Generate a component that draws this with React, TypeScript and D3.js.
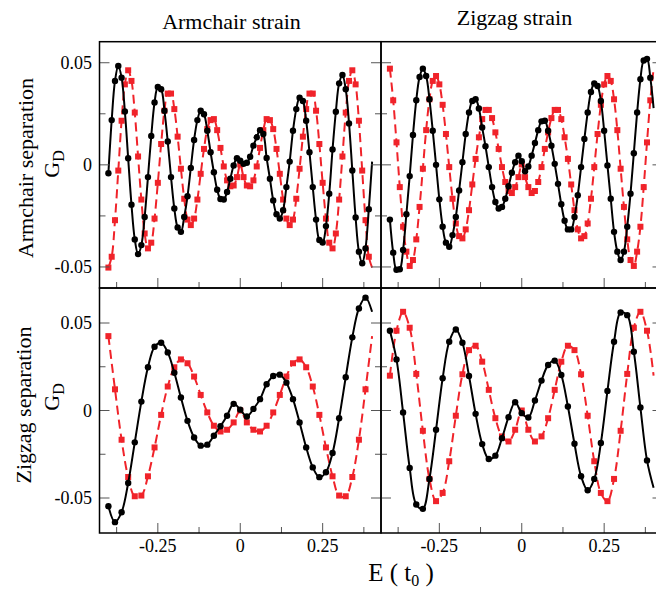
import React, { useEffect, useRef } from 'react';
import * as d3 from 'd3';

// energy grids (units of t0)
const eFine = d3.range(81).map(i => +(-0.4 + i * 0.01).toFixed(2));
const eCoarse = d3.range(41).map(i => +(-0.4 + i * 0.02).toFixed(2));

// armchair separation, armchair strain
const acArmBlack = [
  -0.0041, 0.0219, 0.0411, 0.0484, 0.0427, 0.0261, 0.0032, -0.0195, -0.0365, -0.0437,
  -0.0393, -0.0255, -0.006, 0.0141, 0.0305, 0.0381, 0.037, 0.0265, 0.0114, -0.006,
  -0.0214, -0.0307, -0.0328, -0.0255, -0.0154, -0.0015, 0.0122, 0.0219, 0.0265, 0.0248,
  0.0167, 0.0062, -0.0036, -0.0122, -0.0167, -0.017, -0.0133, -0.0068, -0.0003, 0.0032,
  0.002, 0.0005, 0.001, 0.004, 0.0094, 0.0135, 0.017, 0.0151, 0.0034, -0.0068,
  -0.0174, -0.0242, -0.0263, -0.0222, -0.0109, 0.0016, 0.0167, 0.0273, 0.0329, 0.0313,
  0.0216, 0.0062, -0.0109, -0.0268, -0.0368, -0.038, -0.03, -0.0141, 0.0075, 0.026,
  0.0399, 0.044, 0.037, 0.0203, -0.0028, -0.0258, -0.0425, -0.0482, -0.0409, -0.0217,
  0.0016,
];
const acArmRed = [
  -0.0503, -0.045, -0.0271, -0.0028, 0.0216, 0.0394, 0.0463, 0.0411, 0.0256, 0.0041,
  -0.017, -0.0336, -0.0409, -0.0381, -0.0263, -0.0088, 0.0102, 0.0265, 0.0349, 0.0349,
  0.0273, 0.0138, -0.0019, -0.0166, -0.0268, -0.0295, -0.0263, -0.017, -0.0044, 0.0078,
  0.0175, 0.0219, 0.0224, 0.017, 0.0083, -0.0008, -0.0076, -0.0105, -0.0101, -0.006,
  0.0002, -0.006, -0.0101, -0.0105, -0.0076, -0.0008, 0.0083, 0.017, 0.0224, 0.0219,
  0.0175, 0.0078, -0.0044, -0.017, -0.0263, -0.0295, -0.0268, -0.0166, -0.0019, 0.0138,
  0.0273, 0.0349, 0.0349, 0.0265, 0.0102, -0.0088, -0.0263, -0.0381, -0.0409, -0.0336,
  -0.017, 0.0041, 0.0256, 0.0411, 0.0463, 0.0394, 0.0216, -0.0028, -0.0271, -0.045,
  -0.0503,
];

// armchair separation, zigzag strain
const acZigBlack = [
  -0.0268, -0.043, -0.0514, -0.0511, -0.0417, -0.0242, -0.0055, 0.0146, 0.0316, 0.043,
  0.0471, 0.0435, 0.0321, 0.0167, 0.0, -0.0169, -0.0303, -0.0381, -0.0401, -0.0344,
  -0.0255, -0.0125, 0.0013, 0.0151, 0.0256, 0.0313, 0.0321, 0.0276, 0.0183, 0.0091,
  -0.0011, -0.0109, -0.0182, -0.0214, -0.0206, -0.0166, -0.0105, -0.0039, 0.0013, 0.0045,
  0.0018, -0.0031, -0.0008, 0.0045, 0.0107, 0.017, 0.0213, 0.0216, 0.0167, 0.0094,
  0.0005, -0.0093, -0.0193, -0.0274, -0.0316, -0.0316, -0.0255, -0.0149, -0.0011, 0.0127,
  0.0256, 0.0357, 0.0398, 0.0386, 0.0313, 0.0167, -0.0003, -0.0166, -0.0328, -0.0425,
  -0.0466, -0.0425, -0.0303, -0.0141, 0.0057, 0.0256, 0.0419, 0.0511, 0.0519, 0.0427,
  0.0278,
];
const acZigRed = [
  0.0471, 0.0316, 0.011, -0.0109, -0.0303, -0.0425, -0.0495, -0.0466, -0.0365, -0.0206,
  -0.0019, 0.017, 0.0321, 0.0411, 0.0435, 0.0394, 0.0294, 0.0151, -0.0011, -0.0166,
  -0.0287, -0.0349, -0.036, -0.0316, -0.0222, -0.0096, 0.0029, 0.0135, 0.0224, 0.0269,
  0.0269, 0.0229, 0.0159, 0.0078, -0.0011, -0.0084, -0.0128, -0.0138, -0.0109, -0.006,
  0.0002, -0.006, -0.0109, -0.0138, -0.0128, -0.0084, -0.0011, 0.0078, 0.0159, 0.0229,
  0.0269, 0.0269, 0.0224, 0.0135, 0.0029, -0.0096, -0.0222, -0.0316, -0.036, -0.0349,
  -0.0287, -0.0166, -0.0011, 0.0151, 0.0294, 0.0394, 0.0435, 0.0411, 0.0321, 0.017,
  -0.0019, -0.0206, -0.0365, -0.0466, -0.0495, -0.0425, -0.0303, -0.0109, 0.011, 0.0316,
  0.0471,
];

// zigzag separation, armchair strain
const zzArmBlack = [
  -0.0547, -0.0638, -0.0581, -0.0414, -0.0182, 0.0051, 0.0247, 0.0364, 0.0387, 0.0332,
  0.0216, 0.0074, -0.0059, -0.0154, -0.0201, -0.0195, -0.0144, -0.009, -0.003, 0.0038,
  0.0005, -0.0034, 0.0009, 0.0065, 0.015, 0.0197, 0.0205, 0.0159, 0.0065, -0.0068,
  -0.0211, -0.0325, -0.0381, -0.0353, -0.0243, -0.0044, 0.019, 0.0418, 0.0583, 0.0645,
  0.0564,
];
const zzArmRed = [
  0.0425, 0.0121, -0.0167, -0.038, -0.049, -0.0486, -0.0376, -0.0211, -0.0025, 0.0137,
  0.0247, 0.0292, 0.027, 0.0194, 0.0089, -0.0011, -0.0087, -0.012, -0.011, -0.0068,
  0.0, -0.0068, -0.011, -0.012, -0.0087, -0.0011, 0.0089, 0.0194, 0.027, 0.0292,
  0.0247, 0.0137, -0.0025, -0.0211, -0.0376, -0.0486, -0.049, -0.038, -0.0167, 0.0121,
  0.0425,
];

// zigzag separation, zigzag strain
const zzZigBlack = [
  0.0456, 0.0292, -0.0011, -0.0328, -0.0537, -0.0562, -0.0391, -0.011, 0.0184, 0.0393,
  0.0463, 0.0387, 0.0197, -0.0019, -0.0192, -0.0277, -0.0258, -0.0158, -0.0038, 0.0047,
  -0.0015, -0.004, 0.0057, 0.0171, 0.026, 0.0285, 0.0203, 0.0023, -0.019, -0.0376,
  -0.0456, -0.0391, -0.0186, 0.0112, 0.0393, 0.056, 0.0545, 0.0336, 0.0017, -0.0285,
  -0.0442,
];
const zzZigRed = [
  0.0199, 0.0456, 0.0564, 0.0473, 0.0209, -0.0116, -0.0391, -0.0518, -0.0471, -0.029,
  -0.003, 0.0207, 0.0345, 0.037, 0.0279, 0.0118, -0.0044, -0.0148, -0.0177, -0.011,
  0.0, -0.011, -0.0177, -0.0148, -0.0044, 0.0118, 0.0279, 0.037, 0.0345, 0.0207,
  -0.003, -0.029, -0.0471, -0.0518, -0.0391, -0.0116, 0.0209, 0.0473, 0.0564, 0.0456,
  0.0199,
];

const columnTitles = ['Armchair strain', 'Zigzag strain'];
const rowTitles = ['Armchair separation', 'Zigzag separation'];
const xMajor = [-0.25, 0, 0.25];
const xMinor = [-0.375, -0.125, 0.125, 0.375];
const yMajor = [-0.05, 0, 0.05];
const yMinor = [-0.025, 0.025];
const xTickLabels = ['-0.25', '0', '0.25'];
const yTickLabels = ['-0.05', '0', '0.05'];

const FONT = "'Liberation Serif', 'Times New Roman', serif";
const RED = '#f0232a';

export default function App() {
  const ref = useRef<SVGSVGElement>(null);

  useEffect(() => {
    if (ref.current) drawChart(ref.current);
  }, []);

  return (
    <svg
      ref={ref}
      width={656}
      height={590}
      style={{ position: 'absolute', left: 0, top: 0, background: '#fff' }}
    />
  );
}

const drawChart = (el: SVGSVGElement) => {
  const svg = d3.select(el);
  svg.selectAll('*').remove();

  const cols = [
    { x0: 99.5, x1: 381 },
    { x0: 381, x1: 662.5 },
  ];
  const rows = [
    { y0: 41.7, y1: 288, lim: 0.0603, e: eFine },
    { y0: 288, y1: 533, lim: 0.07, e: eCoarse },
  ];
  const panels = [
    { r: 0, c: 0, black: acArmBlack, red: acArmRed },
    { r: 0, c: 1, black: acZigBlack, red: acZigRed },
    { r: 1, c: 0, black: zzArmBlack, red: zzArmRed },
    { r: 1, c: 1, black: zzZigBlack, red: zzZigRed },
  ];

  panels.forEach((p, idx) => {
    const col = cols[p.c];
    const row = rows[p.r];
    const x = d3.scaleLinear().domain([-0.427, 0.427]).range([col.x0, col.x1]);
    const y = d3.scaleLinear().domain([-row.lim, row.lim]).range([row.y1, row.y0]);
    const g = svg.append('g');

    g.append('clipPath')
      .attr('id', `clip${idx}`)
      .append('rect')
      .attr('x', col.x0)
      .attr('y', row.y0)
      .attr('width', col.x1 - col.x0)
      .attr('height', row.y1 - row.y0);

    const plot = g.append('g').attr('clip-path', `url(#clip${idx})`);

    const line = d3
      .line<number>()
      .x((d, i) => x(row.e[i]))
      .y(d => y(d))
      .curve(d3.curveCatmullRom.alpha(0.5));

    // red dashed series
    plot
      .append('path')
      .attr('d', line(p.red))
      .attr('fill', 'none')
      .attr('stroke', RED)
      .attr('stroke-width', 2)
      .attr('stroke-dasharray', '9,5');
    plot
      .append('g')
      .selectAll('rect')
      .data(p.red.slice(0, -1))
      .enter()
      .append('rect')
      .attr('x', (d, i) => x(row.e[i]) - 3)
      .attr('y', d => y(d) - 3)
      .attr('width', 6)
      .attr('height', 6)
      .attr('fill', RED);

    // black solid series
    plot
      .append('path')
      .attr('d', line(p.black))
      .attr('fill', 'none')
      .attr('stroke', '#000')
      .attr('stroke-width', 2);
    plot
      .append('g')
      .selectAll('circle')
      .data(p.black.slice(0, -1))
      .enter()
      .append('circle')
      .attr('cx', (d, i) => x(row.e[i]))
      .attr('cy', d => y(d))
      .attr('r', 3.2)
      .attr('fill', '#000');

    // ticks (inside, left + right + bottom)
    const ticks = g.append('g').attr('stroke', '#555').attr('stroke-width', 1);
    const yt = [
      ...yMajor.map(v => ({ v, len: 10 })),
      ...yMinor.map(v => ({ v, len: 6 })),
    ];
    yt.forEach(t => {
      ticks.append('line')
        .attr('x1', col.x0).attr('x2', col.x0 + t.len)
        .attr('y1', y(t.v)).attr('y2', y(t.v));
      ticks.append('line')
        .attr('x1', col.x1).attr('x2', col.x1 - t.len)
        .attr('y1', y(t.v)).attr('y2', y(t.v));
    });
    const xt = [
      ...xMajor.map(v => ({ v, len: 10 })),
      ...xMinor.map(v => ({ v, len: 6 })),
    ];
    xt.forEach(t => {
      ticks.append('line')
        .attr('x1', x(t.v)).attr('x2', x(t.v))
        .attr('y1', row.y1).attr('y2', row.y1 - t.len);
    });

    // frame
    g.append('rect')
      .attr('x', col.x0)
      .attr('y', row.y0)
      .attr('width', col.x1 - col.x0)
      .attr('height', row.y1 - row.y0)
      .attr('fill', 'none')
      .attr('stroke', '#000')
      .attr('stroke-width', 1.5);

    // tick labels
    if (p.c === 0) {
      g.selectAll('text.yl')
        .data(yMajor)
        .enter()
        .append('text')
        .attr('x', 92)
        .attr('y', d => y(d))
        .attr('dy', '0.35em')
        .attr('text-anchor', 'end')
        .style('font', `18px ${FONT}`)
        .text((d, i) => yTickLabels[i]);
    }
    if (p.r === 1) {
      g.selectAll('text.xl')
        .data(xMajor)
        .enter()
        .append('text')
        .attr('x', d => x(d))
        .attr('y', 552)
        .attr('text-anchor', 'middle')
        .style('font', `18px ${FONT}`)
        .text((d, i) => xTickLabels[i]);
    }
  });

  // column titles
  svg.append('text')
    .attr('x', 231.5).attr('y', 29)
    .attr('text-anchor', 'middle')
    .style('font', `22px ${FONT}`)
    .text(columnTitles[0]);
  svg.append('text')
    .attr('x', 514.5).attr('y', 25)
    .attr('text-anchor', 'middle')
    .style('font', `22px ${FONT}`)
    .text(columnTitles[1]);

  // row titles with G_D
  const rowPos = [
    { lx: 33, ly: 168, gx: 59, gy: 164 },
    { lx: 31, ly: 405, gx: 59, gy: 397 },
  ];
  rowPos.forEach((p, i) => {
    svg.append('text')
      .attr('transform', `translate(${p.lx},${p.ly}) rotate(-90)`)
      .attr('text-anchor', 'middle')
      .style('font', `22px ${FONT}`)
      .text(rowTitles[i]);
    const gd = svg.append('text')
      .attr('transform', `translate(${p.gx},${p.gy}) rotate(-90)`)
      .attr('text-anchor', 'middle')
      .style('font', `22px ${FONT}`);
    gd.append('tspan').text('G');
    gd.append('tspan').attr('dy', 5).style('font-size', '16px').text('D');
  });

  // x axis label
  const xl = svg.append('text')
    .attr('x', 401).attr('y', 581)
    .attr('text-anchor', 'middle')
    .style('font', `25px ${FONT}`)
    .style('white-space', 'pre');
  xl.append('tspan').text('E ( t');
  xl.append('tspan').attr('dy', 5).style('font-size', '16px').text('0');
  xl.append('tspan').attr('dy', -5).text(' )');
};
